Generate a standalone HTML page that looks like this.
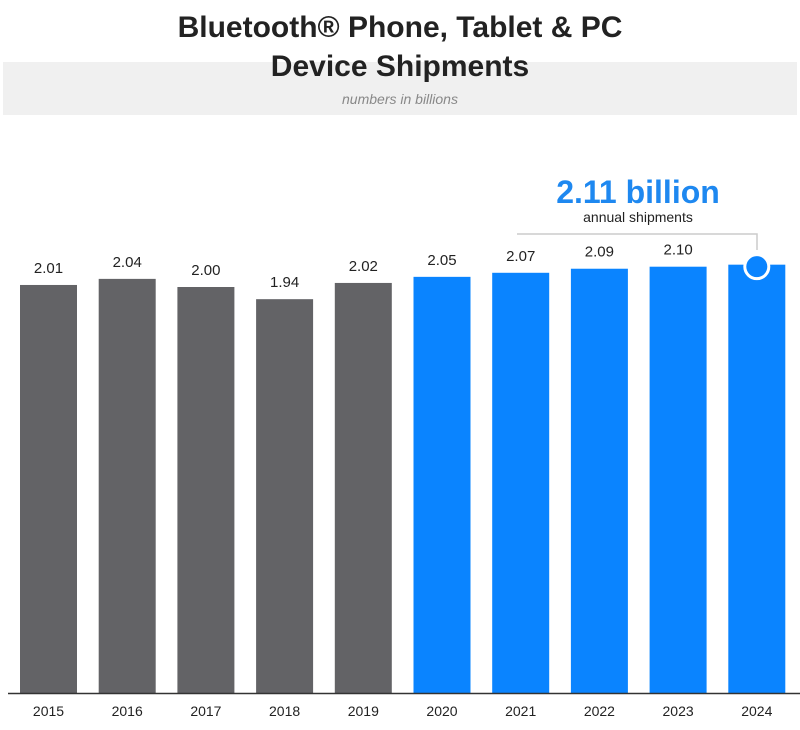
<!DOCTYPE html>
<html><head><meta charset="utf-8"><style>
body{margin:0;background:#fff;width:800px;height:725px;overflow:hidden;font-family:"Liberation Sans",sans-serif}
</style></head><body>
<svg width="800" height="725">
<rect x="3" y="62" width="794" height="53" fill="#f0f0f0"/>
<text x="400" y="37" text-anchor="middle" font-size="30" font-weight="bold" fill="#222">Bluetooth® Phone, Tablet &amp; PC</text>
<text x="400" y="76" text-anchor="middle" font-size="30" font-weight="bold" fill="#222">Device Shipments</text>
<text x="400" y="104" text-anchor="middle" font-size="14" font-style="italic" fill="#888">numbers in billions</text>
<g id="bars"></g>
<line x1="8" y1="693.5" x2="800" y2="693.5" stroke="#333" stroke-width="1.5"/>
<text x="638" y="203" text-anchor="middle" font-size="32" font-weight="bold" fill="#1e88f0">2.11 billion</text>
<text x="638" y="222" text-anchor="middle" font-size="14" fill="#222">annual shipments</text>
<polyline points="517,234 757,234 757,250" fill="none" stroke="#ccc" stroke-width="1.5"/>
<g id="marker"></g>
</svg>
<script>
const categories=["2015","2016","2017","2018","2019","2020","2021","2022","2023","2024"];
const values=[2.01,2.04,2.00,1.94,2.02,2.05,2.07,2.09,2.10,2.11];
const labels=["2.01","2.04","2.00","1.94","2.02","2.05","2.07","2.09","2.10",""];
const ns="http://www.w3.org/2000/svg";
const base=693,scale=203,x0=20,step=78.7,bw=57;
const xs=i=>x0+i*step, ys=v=>base-v*scale;
const g=document.getElementById('bars');
function mk(t,a){const e=document.createElementNS(ns,t);for(const k in a)e.setAttribute(k,a[k]);return e;}
categories.forEach((c,i)=>{
 const r=mk('rect',{x:xs(i),y:ys(values[i]),width:bw,height:values[i]*scale,fill:i<5?'#636366':'#0a84ff'});
 
 
 g.appendChild(r);
 const t=mk('text',{x:xs(i)+bw/2,y:ys(values[i])-12,'text-anchor':'middle','font-size':15,fill:'#222'});
 t.textContent=labels[i];
 
 
 g.appendChild(t);
 const a=mk('text',{x:xs(i)+bw/2,y:716,'text-anchor':'middle','font-size':14,fill:'#222'});
 a.textContent=c;
 
 
 g.appendChild(a);
});
const li=values.length-1;
const m=mk('circle',{cx:xs(li)+bw/2,cy:ys(values[li])+2,r:12,fill:'#0a84ff',stroke:'#fff','stroke-width':3});


document.getElementById('marker').appendChild(m);
</script>
</body></html>
